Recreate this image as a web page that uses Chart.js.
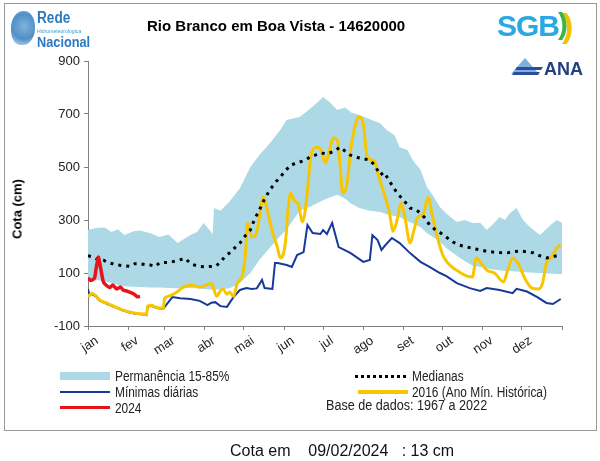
<!DOCTYPE html>
<html>
<head>
<meta charset="utf-8">
<script src="https://cdn.jsdelivr.net/npm/chart.js@4"></script>
<style>
  body { margin: 0; background: #fff; font-family: 'Liberation Sans', Arial, sans-serif; }
  #wrap { position: relative; width: 600px; height: 461px; overflow: hidden; }
  #frame { position: absolute; left: 4px; top: 3px; width: 591px; height: 426px; border: 1px solid #9a9a9a; }
  #chart { position: absolute; left: 0; top: 0; }
  .t { position: absolute; white-space: pre; line-height: 1; }
  .nar { transform-origin: 0 50%; transform: scaleX(0.85); }
  .sw { position: absolute; }
</style>
</head>
<body>
<div id="wrap">
  <div id="frame"></div>
  <canvas id="chart" width="600" height="461"></canvas>

  <!-- logo Rede Hidrometeorológica -->
  <div class="sw" style="left:11px;top:11px;width:24px;height:34px;border-radius:50% 45% 50% 40%;background:radial-gradient(circle at 55% 45%, #7fb3dc 0, #4f8fc8 55%, rgba(120,170,215,0.3) 100%);"></div>
  <div class="t nar" style="left:37px;top:10px;font-size:16px;font-weight:bold;color:#2b79c0;">Rede</div>
  <div class="t nar" style="left:37px;top:28px;font-size:6px;color:#29a3dc;">Hidrometeorológica</div>
  <div class="t nar" style="left:37px;top:34px;font-size:15px;font-weight:bold;color:#2b79c0;">Nacional</div>

  <div class="t" style="left:147px;top:18px;font-size:15px;font-weight:bold;color:#000;">Rio Branco em Boa Vista - 14620000</div>

  <!-- logo SGB -->
  <div class="t" style="left:497px;top:11px;font-size:30px;font-weight:900;letter-spacing:-1px;color:#2aa8e0;">SGB</div>
  <div class="t" style="left:562px;top:8px;font-size:34px;font-weight:bold;color:#f2c200;">)</div>
  <div class="t" style="left:558px;top:9px;font-size:30px;font-weight:bold;color:#3bb54a;">)</div>

  <!-- logo ANA -->
  <div class="sw" style="left:511px;top:58px;width:0;height:0;border-left:14px solid transparent;border-right:14px solid transparent;border-bottom:16px solid #7fb0de;"></div>
  <div class="sw" style="left:516px;top:67px;width:26px;height:3px;background:#2a4d9c;transform:skewX(-30deg);"></div>
  <div class="sw" style="left:513px;top:72px;width:26px;height:3px;background:#2a4d9c;transform:skewX(-30deg);"></div>
  <div class="t" style="left:544px;top:60px;font-size:18px;font-weight:bold;color:#25407f;">ANA</div>

  <!-- título do eixo y -->
  <div class="t" style="left:17px;top:209px;font-size:13px;font-weight:bold;color:#000;transform:translate(-50%,-50%) rotate(-90deg);">Cota (cm)</div>

  <!-- legenda -->
  <div class="sw" style="left:60px;top:372px;width:50px;height:8px;background:#add8e6;"></div>
  <div class="t nar" style="left:115px;top:369px;font-size:14px;color:#222;">Permanência 15-85%</div>
  <div class="sw" style="left:60px;top:391px;width:50px;height:2px;background:#17399c;"></div>
  <div class="t nar" style="left:115px;top:385px;font-size:14px;color:#222;">Mínimas diárias</div>
  <div class="sw" style="left:60px;top:406px;width:50px;height:3px;background:#e8141b;"></div>
  <div class="t nar" style="left:115px;top:401px;font-size:14px;color:#222;">2024</div>

  <div class="sw" style="left:355px;top:375px;width:53px;height:3px;background:repeating-linear-gradient(90deg,#000 0 3px,transparent 3px 6px);"></div>
  <div class="t nar" style="left:412px;top:369px;font-size:14px;color:#222;">Medianas</div>
  <div class="sw" style="left:358px;top:390px;width:50px;height:4px;background:#f7c600;"></div>
  <div class="t nar" style="left:412px;top:385px;font-size:14px;color:#222;">2016 (Ano Mín. Histórica)</div>
  <div class="t nar" style="left:326px;top:398px;font-size:14px;color:#222;transform:scaleX(0.9);">Base de dados: 1967 a 2022</div>

  <div class="t" style="left:230px;top:443px;font-size:16px;color:#111;">Cota em    09/02/2024   : 13 cm</div>
</div>

<script>
// eixos
const monthLabels = ['jan', 'fev', 'mar', 'abr', 'mai', 'jun', 'jul', 'ago', 'set', 'out', 'nov', 'dez'];
const monthStarts = [0, 31, 59, 90, 120, 151, 181, 212, 243, 273, 304, 334, 365];
const yTicks = [-100, 100, 300, 500, 700, 900];

// faixa de permanência 15-85% (dia do ano, cota em cm)
const bandDays = [0, 6, 13, 18, 23, 28, 35, 40, 48, 55, 62, 69, 79, 84, 89, 94, 96, 97, 102, 109,
    117, 125, 132, 140, 148, 153, 163, 171, 177, 181, 186, 192, 198, 203, 209, 217, 225, 230, 236, 240,
    246, 250, 256, 261, 266, 271, 277, 284, 290, 296, 302, 307, 312, 317, 321, 325, 330, 335, 340, 348,
    356, 361, 365];
const bandUpper = [262, 270, 272, 255, 265, 243, 258, 260, 250, 236, 245, 213, 243, 255, 289, 260, 245, 345, 335, 370,
    420, 500, 545, 590, 640, 677, 689, 720, 745, 764, 745, 715, 725, 705, 696, 680, 665, 640, 620, 575,
    564, 526, 490, 425, 390, 349, 320, 292, 300, 289, 290, 262, 285, 311, 300, 326, 345, 300, 275, 243,
    280, 300, 289];
const bandLower = [85, 75, 68, 62, 55, 50, 48, 47, 45, 45, 43, 42, 43, 42, 40, 38, 38, 38, 38, 42,
    62, 100, 150, 195, 240, 265, 335, 350, 365, 375, 385, 395, 380, 360, 345, 335, 330, 322, 315, 311,
    295, 288, 274, 250, 235, 217, 190, 165, 145, 128, 123, 117, 113, 110, 108, 108, 106, 104, 102, 100,
    98, 96, 96];

// medianas
const medDays = [0, 4, 8, 12, 15, 19, 23, 27, 32, 36, 40, 44, 48, 52, 55, 59, 63, 67, 71, 75,
    79, 82, 86, 90, 94, 98, 102, 105, 109, 113, 117, 121, 125, 128, 132, 136, 140, 144, 148, 152,
    156, 159, 163, 167, 171, 175, 179, 183, 186, 190, 194, 198, 202, 205, 209, 213, 217, 221, 225, 228,
    233, 238, 243, 248, 252, 256, 260, 263, 267, 271, 276, 281, 286, 292, 297, 302, 307, 312, 317, 323,
    327, 333, 338, 343, 348, 353, 358, 364];
const medValues = [165, 160, 150, 148, 140, 135, 130, 128, 125, 135, 135, 132, 130, 125, 138, 140, 140, 145, 150, 155,
    135, 130, 125, 123, 125, 125, 140, 160, 176, 195, 213, 240, 262, 300, 338, 380, 413, 440, 462, 485,
    508, 512, 519, 525, 538, 545, 553, 550, 553, 560, 575, 560, 545, 540, 534, 530, 526, 505, 470, 480,
    440, 402, 375, 345, 340, 326, 305, 281, 265, 253, 235, 217, 205, 198, 192, 187, 182, 179, 177, 176,
    180, 183, 180, 176, 165, 157, 162, 168];

// mínimas diárias
const minDays = [0, 1, 3, 6, 9, 15, 21, 26, 32, 38, 44, 45, 46, 49, 52, 55, 58, 65, 71, 79,
    86, 92, 95, 98, 102, 107, 112, 117, 122, 126, 130, 134, 136, 142, 144, 146, 153, 157, 161, 166,
    169, 173, 179, 181, 184, 188, 193, 202, 212, 217, 219, 223, 226, 229, 234, 240, 248, 256, 263, 271,
    276, 284, 294, 302, 307, 317, 327, 330, 338, 346, 353, 358, 364];
const minValues = [40, 20, 20, 12, -4, -17, -30, -40, -49, -55, -57, -59, -27, -24, -30, -34, -34, 9, 5, 2,
    -5, -21, -12, -10, -25, -28, 9, 36, 43, 40, 42, 74, 43, 40, 138, 138, 130, 123, 168, 179,
    281, 251, 247, 262, 247, 289, 198, 176, 142, 149, 243, 224, 187, 205, 232, 213, 175, 142, 123, 100,
    88, 62, 43, 32, 43, 36, 24, 40, 30, 9, -13, -17, 2];

// 2016 (ano mínimo histórico)
const y2016Days = [0, 3, 6, 9, 15, 21, 26, 32, 38, 44, 45, 46, 49, 52, 55, 58, 59, 62, 65, 69,
    72, 76, 81, 85, 89, 92, 95, 97, 99, 102, 104, 107, 109, 112, 115, 119, 121, 123, 126, 129,
    132, 135, 138, 142, 146, 148, 152, 154, 156, 159, 162, 165, 167, 169, 172, 176, 179, 183, 185, 189,
    192, 194, 196, 199, 203, 207, 209, 212, 215, 219, 221, 223, 226, 229, 232, 235, 238, 241, 244, 248,
    251, 254, 258, 262, 265, 269, 273, 277, 281, 286, 292, 296, 299, 303, 307, 313, 320, 323, 327, 331,
    337, 342, 347, 350, 353, 357, 361, 364];
const y2016Values = [9, 24, 15, -2, -15, -28, -38, -47, -53, -55, -57, -25, -22, -28, -32, -32, 5, 12, 18, 30,
    42, 52, 55, 47, 50, 57, 60, 38, 12, 33, 40, 20, 28, 12, 62, 92, 160, 289, 236, 243,
    311, 387, 338, 255, 194, 157, 213, 338, 402, 372, 360, 292, 326, 413, 553, 575, 568, 515, 545, 609,
    602, 515, 402, 425, 590, 677, 689, 662, 538, 526, 519, 480, 430, 385, 330, 258, 300, 364, 311, 213,
    262, 311, 320, 385, 320, 236, 170, 138, 120, 104, 88, 85, 157, 135, 111, 100, 66, 108, 157, 138,
    74, 43, 40, 62, 138, 160, 194, 206];

// 2024
const y2024Days = [0, 2, 5, 6, 8, 9, 11, 12, 15, 17, 19, 22, 25, 27, 31, 35, 38, 40];
const y2024Values = [81, 72, 80, 110, 160, 138, 85, 65, 50, 45, 55, 40, 47, 36, 30, 22, 10, 13];

const pts = (days, vals) => days.map((d, i) => ({ x: d, y: vals[i] }));

// rótulos dos meses ancorados um pouco depois do início de cada mês
const labelDays = monthStarts.slice(0, 12).map(d => d + 7);

const ctx = document.getElementById('chart').getContext('2d');
new Chart(ctx, {
    type: 'line',
    data: {
        datasets: [
            { label: '2024', data: pts(y2024Days, y2024Values), borderColor: '#e8141b', borderWidth: 3.5, tension: 0.2 },
            { label: 'Medianas', data: pts(medDays, medValues), borderColor: '#000', borderWidth: 3, borderDash: [3, 5], borderCapStyle: 'butt', tension: 0 },
            { label: '2016 (Ano Mín. Histórica)', data: pts(y2016Days, y2016Values), borderColor: '#f7c600', borderWidth: 3, cubicInterpolationMode: 'monotone' },
            { label: 'Mínimas diárias', data: pts(minDays, minValues), borderColor: '#17399c', borderWidth: 2, tension: 0 },
            { label: 'Permanência 15-85%', data: pts(bandDays, bandUpper), borderWidth: 0, borderColor: 'rgba(0,0,0,0)', backgroundColor: '#add8e6', fill: '+1' },
            { label: 'p15', data: pts(bandDays, bandLower), borderWidth: 0, borderColor: 'rgba(0,0,0,0)', fill: false },
        ],
    },
    options: {
        responsive: false,
        animation: false,
        devicePixelRatio: 1,
        elements: { point: { radius: 0 } },
        layout: { padding: { left: 0, top: 61, right: 38, bottom: 100 } },
        plugins: { legend: { display: false }, tooltip: { enabled: false } },
        scales: {
            x: {
                type: 'linear',
                position: 'bottom',
                min: 0,
                max: 365,
                afterBuildTicks: scale => { scale.ticks = monthStarts.map(v => ({ value: v })); },
                afterFit: scale => { scale.height = 4; },
                ticks: { display: false },
                grid: { drawOnChartArea: false, drawTicks: true, tickLength: 4, color: '#808080' },
                border: { color: '#808080' },
            },
            xl: {
                type: 'linear',
                position: 'bottom',
                min: 0,
                max: 365,
                afterBuildTicks: scale => { scale.ticks = labelDays.map(v => ({ value: v })); },
                afterFit: scale => { scale.height = 31; },
                ticks: {
                    autoSkip: false,
                    minRotation: 33,
                    maxRotation: 33,
                    padding: 3,
                    color: '#222',
                    font: { family: "'Liberation Sans', sans-serif", size: 13 },
                    callback: (v, i) => monthLabels[i],
                },
                grid: { display: false, drawTicks: false },
                border: { display: false },
            },
            y: {
                min: -100,
                max: 900,
                afterBuildTicks: scale => { scale.ticks = yTicks.map(v => ({ value: v })); },
                afterFit: scale => { scale.width = 88; },
                ticks: { padding: 4, color: '#222', font: { family: "'Liberation Sans', sans-serif", size: 13 } },
                grid: { drawOnChartArea: false, drawTicks: true, tickLength: 4, color: '#808080' },
                border: { color: '#808080' },
            },
        },
    },
});
</script>
</body>
</html>
